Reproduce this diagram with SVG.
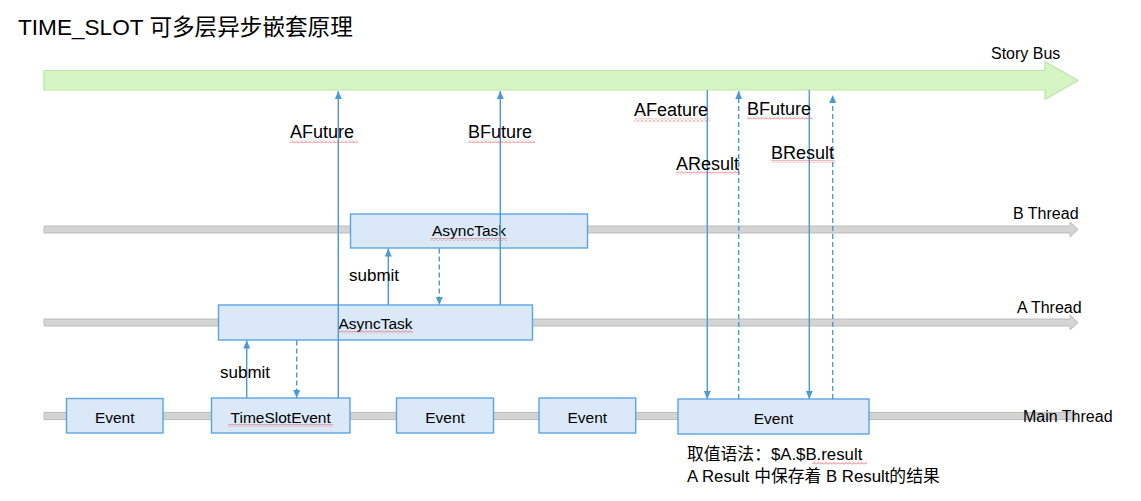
<svg xmlns="http://www.w3.org/2000/svg" width="1141" height="501" viewBox="0 0 1141 501">
<defs>
<style>
text { font-family: "Liberation Sans", Arial, "Noto Sans CJK SC", sans-serif; fill:#000; }
.box { fill:#dae8f8; stroke:#5ba5e4; stroke-width:1.4; }
.bt { font-size:15.5px; text-anchor:middle; }
.lbl { font-size:18px; }
.thl { font-size:16px; }
.thr { fill:#d4d4d4; stroke:#bcbcbc; stroke-width:1; }
.ln { stroke:#4b9ad8; stroke-width:1.4; fill:none; }
.dash { stroke-dasharray:5 3; }
.sq { fill:url(#squig); }
</style>
<marker id="ah" viewBox="0 0 8 8" refX="8" refY="4" markerWidth="8" markerHeight="8" markerUnits="userSpaceOnUse" orient="auto"><path d="M0,0.5 L8,4 L0,7.5 z" fill="#4b9ad8"/></marker>
<pattern id="squig" width="4" height="3" patternUnits="userSpaceOnUse"><path d="M0,2.5 L2,0.5 L4,2.5" stroke="#e04848" stroke-width="0.8" fill="none"/></pattern>
</defs>
<rect width="1141" height="501" fill="#fff"/>
<text x="18" y="35" font-size="22.6">TIME_SLOT 可多层异步嵌套原理</text>

<g id="story-bus">
<path d="M44,70.5 H1045 V61.5 L1078,80.5 L1045,99.5 V90 H44 Z" fill="#d5f5c2" stroke="#bfe3a8" stroke-width="1.2"/>
<text class="thl" x="991" y="59">Story Bus</text>
</g>
<g id="b-thread">
<path class="thr" d="M44,226 H1070 V222 L1078,229.5 L1070,237 V233 H44 Z"/>
<text class="thl" x="1013" y="219">B Thread</text>
</g>
<g id="a-thread">
<path class="thr" d="M44,319 H1070 V315 L1078,322.5 L1070,330 V326 H44 Z"/>
<text class="thl" x="1017" y="313">A Thread</text>
</g>
<g id="main-thread">
<path class="thr" d="M44,412.5 H1076 V419.5 H44 Z"/>
<text class="thl" x="1023" y="422">Main Thread</text>
</g>

<g id="event1"><rect class="box" x="66.5" y="398.5" width="96.5" height="34.5"/><text class="bt" x="114.7" y="423">Event</text></g>
<g id="timeslot-event"><rect class="box" x="211.5" y="398" width="138.5" height="35"/><text class="bt" x="280.7" y="423">TimeSlotEvent</text></g>
<g id="event3"><rect class="box" x="396.5" y="398" width="97" height="35"/><text class="bt" x="445" y="423">Event</text></g>
<g id="event4"><rect class="box" x="539" y="398" width="96.7" height="35"/><text class="bt" x="587.3" y="423">Event</text></g>
<g id="event5"><rect class="box" x="678" y="399" width="191" height="35"/><text class="bt" x="773.5" y="424">Event</text></g>
<g id="a-asynctask"><rect class="box" x="218.5" y="305" width="314" height="35"/><text class="bt" x="375.5" y="329">AsyncTask</text></g>
<g id="b-asynctask"><rect class="box" x="350.5" y="214" width="237" height="34"/><text class="bt" x="469" y="236">AsyncTask</text></g>

<g id="connectors">
<line class="ln" x1="338.3" y1="398" x2="338.3" y2="91" marker-end="url(#ah)"/>
<line class="ln" x1="500.3" y1="305" x2="500.3" y2="91" marker-end="url(#ah)"/>
<line class="ln" x1="246.7" y1="398" x2="246.7" y2="340.5" marker-end="url(#ah)"/>
<line class="ln dash" x1="296.7" y1="340.5" x2="296.7" y2="398" marker-end="url(#ah)"/>
<line class="ln" x1="388.3" y1="305" x2="388.3" y2="248.5" marker-end="url(#ah)"/>
<line class="ln dash" x1="439.3" y1="248.5" x2="439.3" y2="305" marker-end="url(#ah)"/>
<line class="ln" x1="707.3" y1="90" x2="707.3" y2="399" marker-end="url(#ah)"/>
<line class="ln dash" x1="738.7" y1="399" x2="738.7" y2="91" marker-end="url(#ah)"/>
<line class="ln" x1="809.3" y1="90" x2="809.3" y2="399" marker-end="url(#ah)"/>
<line class="ln dash" x1="832.7" y1="399" x2="832.7" y2="95" marker-end="url(#ah)"/>
</g>

<g id="labels">
<text class="lbl" x="290" y="138">AFuture</text>
<text class="lbl" x="468" y="138">BFuture</text>
<text class="lbl" x="634" y="116">AFeature</text>
<text class="lbl" x="747" y="115">BFuture</text>
<text class="lbl" x="676" y="170">AResult</text>
<text class="lbl" x="771" y="159">BResult</text>
<text x="220" y="378" font-size="17">submit</text>
<text x="349" y="281" font-size="17">submit</text>
<text x="687" y="460" font-size="16.8">取值语法：$A.$B.result</text>
<text x="687" y="482" font-size="16.8">A Result 中保存着 B Result的结果</text>
</g>

<g id="spellcheck">
<rect class="sq" x="290" y="140" width="68" height="3"/>
<rect class="sq" x="468" y="140" width="67" height="3"/>
<rect class="sq" x="634" y="118.5" width="76" height="3"/>
<rect class="sq" x="747" y="116.5" width="66" height="3"/>
<rect class="sq" x="676" y="171.5" width="64" height="3"/>
<rect class="sq" x="771" y="160" width="64" height="3"/>
<rect class="sq" x="430" y="238" width="77" height="3"/>
<rect class="sq" x="338" y="330.5" width="75" height="3"/>
<rect class="sq" x="228" y="424" width="105" height="3"/>
<rect class="sq" x="812" y="462" width="55" height="3"/>
</g>
</svg>
